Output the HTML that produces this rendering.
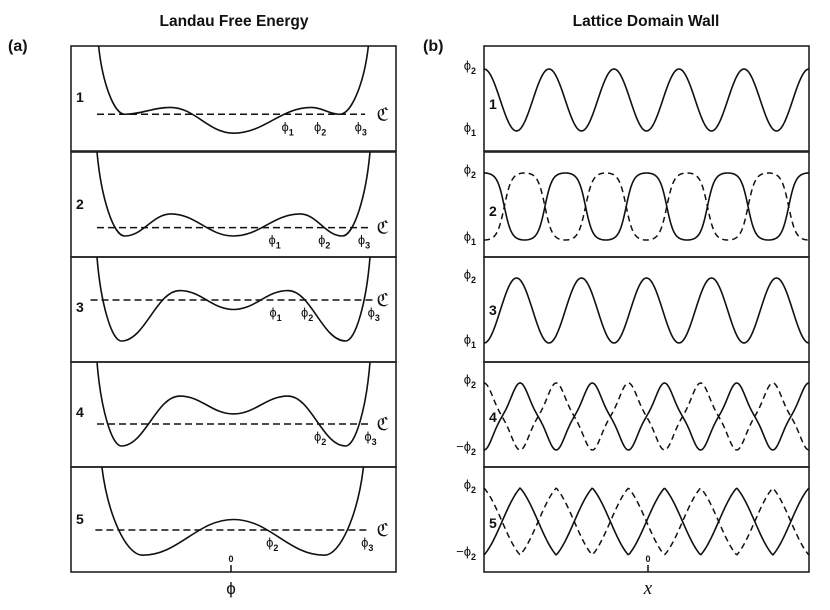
<!DOCTYPE html>
<html><head><meta charset="utf-8"><style>
html,body{margin:0;padding:0;background:#fff;}
svg text{font-family:"Liberation Sans",sans-serif;fill:#111;}
</style></head><body>
<svg id="fig" width="830" height="605" viewBox="0 0 830 605" xmlns="http://www.w3.org/2000/svg">
<text x="234" y="26" text-anchor="middle" font-size="15.5" font-weight="bold">Landau Free Energy</text>
<text x="646" y="26" text-anchor="middle" font-size="15.5" font-weight="bold">Lattice Domain Wall</text>
<text x="8" y="51" font-size="16" font-weight="bold">(a)</text>
<text x="423" y="51" font-size="16" font-weight="bold">(b)</text>
<g id="left"></g>
<g id="right"></g>
<line x1="231" y1="565" x2="231" y2="572" stroke="#111" stroke-width="1.5"/>
<text x="231" y="562" text-anchor="middle" font-size="9" font-weight="bold">0</text>
<text x="231" y="594" text-anchor="middle" font-size="17">ϕ</text>
<line x1="648" y1="565" x2="648" y2="572" stroke="#111" stroke-width="1.5"/>
<text x="648" y="562" text-anchor="middle" font-size="9" font-weight="bold">0</text>
<text x="648" y="594" text-anchor="middle" font-size="19" font-style="italic" style="font-family:'Liberation Serif',serif">x</text>
</svg>
<script>
const panelTops = [46, 152, 257, 362, 467];
const panelH = 105;
// Landau curves: [phi, F] key points (entry, extrema, exit)
const landau1 = [[-0.83,1],[-0.67,0.35],[-0.39,0.415],[0,0.17],[0.48,0.415],[0.655,0.35],[0.83,1]];
const landau2 = [[-0.84,1],[-0.67,0.2],[-0.385,0.41],[0,0.2],[0.41,0.41],[0.67,0.2],[0.84,1]];
const landau3 = [[-0.84,1],[-0.69,0.2],[-0.33,0.68],[0,0.5],[0.335,0.68],[0.69,0.2],[0.84,1]];
const landau4 = [[-0.84,1],[-0.69,0.2],[-0.33,0.676],[0,0.505],[0.335,0.676],[0.69,0.2],[0.84,1]];
const landau5 = [[-0.81,1],[-0.56,0.16],[0,0.5],[0.56,0.16],[0.8,1]];
const dashLevels = [0.35, 0.28, 0.59, 0.41, 0.4];
const dashStart = [-0.84, -0.84, -0.88, -0.84, -0.85];
const dashEnd = [0.81, 0.84, 0.86, 0.85, 0.84];
const phiLabels1 = [[1,0.32],[2,0.52],[3,0.77]];
const phiLabels2 = [[1,0.24],[2,0.545],[3,0.79]];
const phiLabels3 = [[1,0.245],[2,0.44],[3,0.85]];
const phiLabels4 = [[2,0.52],[3,0.83]];
const phiLabels5 = [[2,0.225],[3,0.81]];
const panelNums = ['1','2','3','4','5'];
// Domain wall waves
const wavePeriods = [65, 81.25, 65, 72.2, 72.2];
const wavePhases = [0, 0, 0.5, 0.5, 0.5];
const waveSharp = [0, 1.7, 0, 0, 0];
const waveShoulder = [0, 0, 0, 0.4, 0];
const waveTriangle = [0, 0, 0, 0, 0.6];
const waveDashed = [false, true, false, true, true];
const waveHiY = [69, 173, 278, 383, 488];
const waveLoY = [131, 240, 343, 450, 555];
const waveHiLabel = ['ϕ','ϕ','ϕ','ϕ','ϕ'];
const waveHiSub = ['2','2','2','2','2'];
const waveLoLabel = ['ϕ','ϕ','ϕ','−ϕ','−ϕ'];
const waveLoSub = ['1','1','1','2','2'];

const NS='http://www.w3.org/2000/svg';
function mk(tag, attrs, parent){const e=document.createElementNS(NS,tag);for(const k in attrs)e.setAttribute(k,attrs[k]);parent.appendChild(e);return e;}
const L={x0:71,x1:396}, R={x0:484,x1:809};
const lx = p => 233.5 + p*162.5;
const ly = (i,f) => panelTops[i]+panelH - f*panelH;
const left=document.getElementById('left'), right=document.getElementById('right');
const landau=[landau1,landau2,landau3,landau4,landau5];
const phiLabs=[phiLabels1,phiLabels2,phiLabels3,phiLabels4,phiLabels5];

mk('defs',{},left).innerHTML='<clipPath id="cl0"><rect x="71" y="46" width="325" height="526"/></clipPath>';

for(let i=0;i<5;i++){
  const r=mk('rect',{x:L.x0,y:panelTops[i],width:L.x1-L.x0,height:panelH,fill:'none',stroke:'#222','stroke-width':1.6},left);
  
  
  const pts=landau[i].map(p=>[lx(p[0]),ly(i,p[1])]);
  let d='M'+pts[0][0]+','+pts[0][1];
  for(let k=0;k<pts.length-1;k++){
    const a=pts[k],b=pts[k+1],dx=b[0]-a[0],dy=b[1]-a[1];
    let c1,c2;
    if(k===0){c1=[a[0]+0.15*dx,a[1]+0.55*dy];c2=[b[0]-0.4*dx,b[1]];}
    else if(k===pts.length-2){c1=[a[0]+0.4*dx,a[1]];c2=[b[0]-0.15*dx,b[1]-0.55*dy];}
    else{c1=[a[0]+0.4*dx,a[1]];c2=[b[0]-0.4*dx,b[1]];}
    d+=' C'+c1.join(',')+' '+c2.join(',')+' '+b.join(',');
  }
  const c=mk('path',{d:d,fill:'none',stroke:'#111','stroke-width':1.6,'clip-path':'url(#cl0)'},left);
  
  
  const dl=mk('line',{x1:lx(dashStart[i]),x2:lx(dashEnd[i]),y1:ly(i,dashLevels[i]),y2:ly(i,dashLevels[i]),stroke:'#111','stroke-width':1.5,'stroke-dasharray':'7,4'},left);
  
  
  const cc=mk('text',{x:lx(0.88),y:ly(i,dashLevels[i])+6,'font-size':18,style:"font-family:'DejaVu Serif',serif"},left);
  cc.textContent='ℭ';
  
  
  const n=mk('text',{x:76,y:[98,205,308,413,520][i]+4,'font-size':14,'font-weight':'bold'},left);
  n.textContent=panelNums[i];
  
  
  phiLabs[i].forEach(pl=>{
    const t=mk('text',{x:lx(pl[1])-4,y:ly(i,dashLevels[i])+17,'font-size':13},left);
    t.innerHTML='ϕ<tspan font-size="9" font-weight="bold" dy="4">'+pl[0]+'</tspan>';
    
    
  });
}

function shape(i,u){
  let s=Math.cos(2*Math.PI*(u+wavePhases[i]));
  if(waveSharp[i]>0) s=Math.tanh(waveSharp[i]*s)/Math.tanh(waveSharp[i]);
  if(waveShoulder[i]>0) s=(1-waveShoulder[i])*s+waveShoulder[i]*s*s*s;
  if(waveTriangle[i]>0) s=(1-waveTriangle[i])*s+waveTriangle[i]*(2/Math.PI)*Math.asin(Math.max(-1,Math.min(1,s)));
  return s;
}
for(let i=0;i<5;i++){
  const r=mk('rect',{x:R.x0,y:panelTops[i],width:R.x1-R.x0,height:panelH,fill:'none',stroke:'#222','stroke-width':1.6},right);
  
  
  const yOf=v=>(waveHiY[i]+waveLoY[i])/2-v*(waveLoY[i]-waveHiY[i])/2;
  let d='',d2='';
  for(let x=0;x<=325;x+=1){
    const v=shape(i,x/wavePeriods[i]);
    d+=(x?'L':'M')+(R.x0+x)+','+yOf(v).toFixed(2);
    d2+=(x?'L':'M')+(R.x0+x)+','+yOf(-v).toFixed(2);
  }
  if(waveDashed[i]){
    const p2=mk('path',{d:d2,fill:'none',stroke:'#111','stroke-width':1.5,'stroke-dasharray':'6,4'},right);
    
    
  }
  const p=mk('path',{d:d,fill:'none',stroke:'#111','stroke-width':1.6},right);
  
  
  const hi=mk('text',{x:476,y:waveHiY[i]+1,'font-size':13,'text-anchor':'end'},right);
  hi.innerHTML=waveHiLabel[i]+'<tspan font-size="9" font-weight="bold" dy="4">'+waveHiSub[i]+'</tspan>';
  
  
  const lo=mk('text',{x:476,y:waveLoY[i]+1,'font-size':13,'text-anchor':'end'},right);
  lo.innerHTML=waveLoLabel[i]+'<tspan font-size="9" font-weight="bold" dy="4">'+waveLoSub[i]+'</tspan>';
  
  
  const n=mk('text',{x:489,y:[104,211,310,417,523][i]+5,'font-size':14,'font-weight':'bold'},right);
  n.textContent=panelNums[i];
  
  
}
</script>
</body></html>
